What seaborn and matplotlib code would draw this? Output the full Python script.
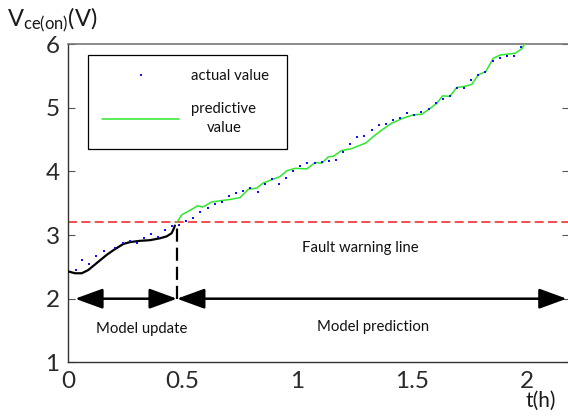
import numpy as np
import pandas as pd
import matplotlib
matplotlib.use("Agg")
import matplotlib.pyplot as plt
from matplotlib.lines import Line2D
import seaborn as sns

# ---- data -------------------------------------------------------------
# measured on-state voltage (blue dots)
actual_t = [0.035, 0.062, 0.090, 0.123, 0.158, 0.205, 0.238, 0.269, 0.299, 0.330,
            0.360, 0.391, 0.422, 0.453, 0.485, 0.514, 0.546, 0.577, 0.609, 0.639,
            0.670, 0.702, 0.732, 0.764, 0.795, 0.827, 0.857, 0.888, 0.918, 0.949,
            0.981, 1.013, 1.043, 1.075, 1.107, 1.138, 1.168, 1.199, 1.231, 1.261,
            1.292, 1.324, 1.354, 1.386, 1.417, 1.447, 1.478, 1.510, 1.540, 1.572,
            1.603, 1.633, 1.665, 1.696, 1.726, 1.757, 1.789, 1.819, 1.851, 1.882,
            1.912, 1.944, 1.975]
actual_v = [2.45, 2.61, 2.55, 2.67, 2.75, 2.79, 2.87, 2.90, 2.87, 2.95,
            3.02, 2.97, 3.08, 3.14, 3.16, 3.22, 3.27, 3.37, 3.43, 3.49,
            3.52, 3.62, 3.66, 3.70, 3.74, 3.68, 3.80, 3.88, 3.80, 3.90,
            4.00, 4.09, 4.13, 4.13, 4.15, 4.17, 4.18, 4.31, 4.43, 4.54,
            4.56, 4.65, 4.73, 4.74, 4.81, 4.84, 4.92, 4.89, 4.94, 4.98,
            5.08, 5.14, 5.18, 5.32, 5.32, 5.44, 5.52, 5.57, 5.74, 5.79,
            5.81, 5.82, 5.95]

# model fitted during the update window (black curve)
update_t = [0.0, 0.031, 0.060, 0.088, 0.125, 0.169, 0.205, 0.241, 0.270, 0.314,
            0.357, 0.401, 0.430, 0.452, 0.462, 0.466]
update_v = [2.43, 2.40, 2.40, 2.45, 2.56, 2.69, 2.78, 2.86, 2.89, 2.91,
            2.92, 2.95, 2.98, 3.03, 3.11, 3.15]

# model prediction (green line)
pred_t = [0.475, 0.496, 0.532, 0.565, 0.587, 0.626, 0.663, 0.706, 0.750, 0.786,
          0.823, 0.851, 0.888, 0.924, 0.953, 0.990, 1.041, 1.077, 1.106, 1.135,
          1.157, 1.193, 1.237, 1.299, 1.331, 1.367, 1.411, 1.462, 1.505, 1.542,
          1.574, 1.607, 1.633, 1.665, 1.694, 1.731, 1.760, 1.789, 1.821, 1.854,
          1.883, 1.927, 1.950, 1.978, 1.989]
pred_v = [3.20, 3.32, 3.39, 3.46, 3.44, 3.52, 3.54, 3.56, 3.59, 3.72,
          3.74, 3.82, 3.87, 3.92, 4.01, 4.05, 4.04, 4.14, 4.13, 4.23,
          4.24, 4.33, 4.36, 4.45, 4.55, 4.65, 4.76, 4.84, 4.89, 4.90,
          4.98, 5.07, 5.19, 5.18, 5.32, 5.34, 5.37, 5.52, 5.57, 5.78,
          5.83, 5.85, 5.86, 5.93, 6.00]

fault_level = 3.2      # fault warning threshold (V)
switch_t = 0.475       # end of model update / start of prediction
arrow_level = 2.0
x_ticks = [0, 0.5, 1, 1.5, 2]
x_ticklabels = ["0", "0.5", "1", "1.5", "2"]
y_ticks = [1, 2, 3, 4, 5, 6]

df_actual = pd.DataFrame({"t": actual_t, "v": actual_v})
df_update = pd.DataFrame({"t": update_t, "v": update_v})
df_pred = pd.DataFrame({"t": pred_t, "v": pred_v})

# ---- style ------------------------------------------------------------
sns.set_theme(style="white")
plt.rcParams["font.family"] = ["Lato", "DejaVu Sans"]
plt.rcParams["mathtext.fontset"] = "custom"
plt.rcParams["mathtext.rm"] = "Lato"
plt.rcParams["mathtext.it"] = "Lato"

W, H = 568, 419
fig = plt.figure(figsize=(W / 100, H / 100), dpi=100)
ax = fig.add_axes([68 / W, (H - 362.3) / H, 501 / W, 318 / H])

# ---- marks ------------------------------------------------------------
ax.axhline(fault_level, color="#f03030", lw=1.2, dashes=(5.4, 2.6), zorder=1)

sns.lineplot(data=df_update, x="t", y="v", ax=ax, color="black", lw=1.6,
             sort=False, zorder=3)
sns.lineplot(data=df_pred, x="t", y="v", ax=ax, color="#2ee82e", lw=1.1,
             sort=False, zorder=3)
sns.scatterplot(data=df_actual, x="t", y="v", ax=ax, color="#1010ff",
                marker="s", s=3.5, linewidth=0, zorder=4)

ax.plot([switch_t, switch_t], [arrow_level, update_v[-1]], color="black",
        lw=1.6, dashes=(5.9, 2.7), zorder=2)

arrow_style = "<|-|>,head_length=17,head_width=6.2"
ax.annotate("", xy=(update_t[1], arrow_level), xytext=(switch_t, arrow_level),
            arrowprops=dict(arrowstyle=arrow_style, mutation_scale=1,
                            color="black", lw=1.8, shrinkA=0, shrinkB=0))
ax.annotate("", xy=(switch_t, arrow_level), xytext=(2.174, arrow_level),
            arrowprops=dict(arrowstyle=arrow_style, mutation_scale=1,
                            color="black", lw=1.8, shrinkA=0, shrinkB=0))

txt_kw = dict(fontsize=10.7, color="#111111", ha="center", va="center")
ax.text(1.273, 2.80, "Fault warning line", **txt_kw)
ax.text(0.32, 1.53, "Model update", **txt_kw)
ax.text(1.33, 1.55, "Model prediction", **txt_kw)

# ---- axes -------------------------------------------------------------
ax.set_xlim(0, 2.184)
ax.set_ylim(1, 6)
ax.set_xticks(x_ticks)
ax.set_xticklabels(x_ticklabels)
ax.set_yticks(y_ticks)
ax.set_xlabel("")
ax.set_ylabel("")
ax.tick_params(axis="both", direction="in", length=5, width=0.8,
               color="#555555", labelsize=17.5, labelcolor="#2a2a2a")
ax.tick_params(axis="x", pad=6)
ax.tick_params(axis="y", pad=6, right=True, left=True)
for side in ["left", "bottom"]:
    ax.spines[side].set_color("#333333")
    ax.spines[side].set_linewidth(1.0)
ax.spines["top"].set_color("#777777")
ax.spines["top"].set_linewidth(1.2)
ax.spines["right"].set_color("#777777")

# legend
handles = [
    Line2D([], [], ls="none", marker="s", markersize=1.9, color="#1010ff",
           markeredgewidth=0),
    Line2D([], [], color="#2ee82e", lw=1.1),
]
leg = ax.legend(handles, ["actual value", "predictive\nvalue"],
                loc="upper left", bbox_to_anchor=(0.04, 0.72, 0.398, 0.246),
                mode="expand", borderaxespad=0, fontsize=10.7,
                handlelength=5.2, handletextpad=0.8, borderpad=0.95,
                labelspacing=1.25, fancybox=False, framealpha=1,
                edgecolor="black")
leg.get_frame().set_linewidth(0.9)
for t in leg.get_texts():
    t.set_multialignment("center")
    t.set_linespacing(1.45)
    t.set_color("#111111")

fig.text(7 / W, 1 - 20 / H, r"V$_{\mathrm{ce(on)}}$(V)", fontsize=17,
         ha="left", va="center", color="#1a1a1a")
fig.text(541 / W, 1 - 401 / H, "t(h)", fontsize=15, ha="center",
         va="center", color="#1a1a1a")

fig.savefig("out.png", dpi=100)
